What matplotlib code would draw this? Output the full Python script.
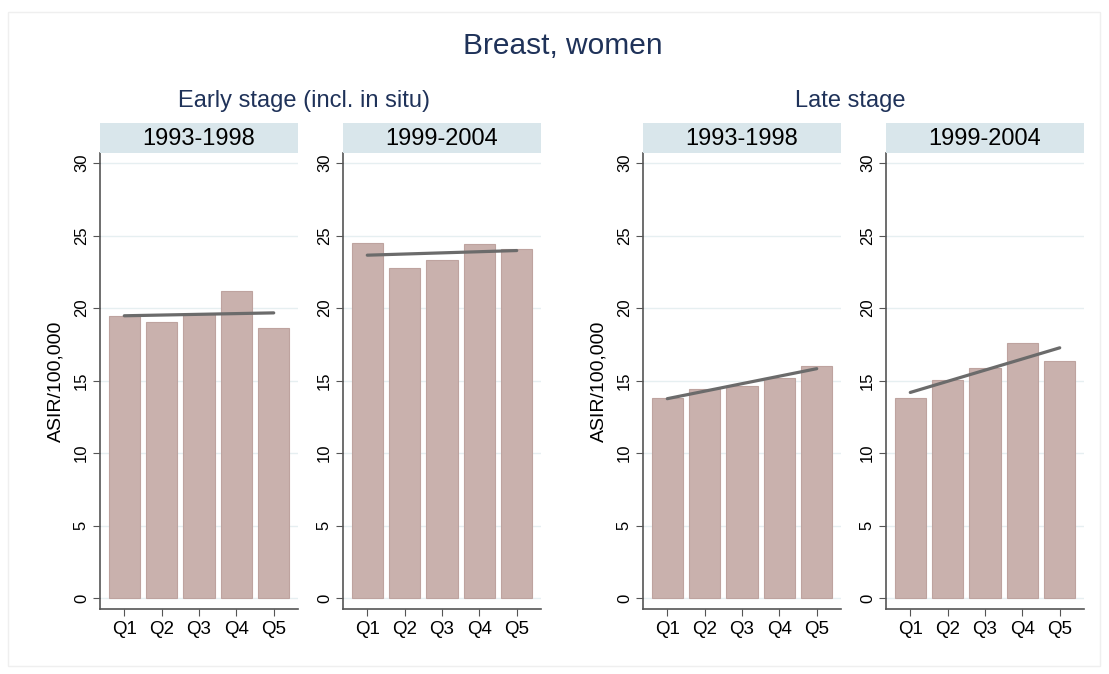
import numpy as np
import matplotlib.pyplot as plt
from matplotlib.patches import Rectangle

plt.rcParams['font.family'] = ['Liberation Sans', 'DejaVu Sans']

quintiles = ["Q1", "Q2", "Q3", "Q4", "Q5"]
periods = ["1993-1998", "1999-2004", "1993-1998", "1999-2004"]
stages = ["Early stage (incl. in situ)", "Late stage"]

early_9398 = [19.45, 19.05, 19.6, 21.2, 18.6]
early_9904 = [24.5, 22.8, 23.3, 24.45, 24.05]
late_9398 = [13.77, 14.43, 14.62, 15.15, 16.0]
late_9904 = [13.8, 15.06, 15.9, 17.6, 16.37]

# fitted line end points (at Q1 and Q5)
trend_q1 = [19.47, 23.65, 13.75, 14.18]
trend_q5 = [19.67, 23.97, 15.82, 17.26]

series = [early_9398, early_9904, late_9398, late_9904]

W, H = 1109, 674
fig = plt.figure(figsize=(W / 100, H / 100), dpi=100)
fig.patch.set_facecolor("white")
fig.patches.append(Rectangle((8 / W, 8 / H), 1092 / W, 654 / H, transform=fig.transFigure,
                             fill=False, edgecolor="#efefef", lw=1))

bar_col = "#c9b1ad"
edge_col = "#bea39f"
line_col = "#6b6b6b"
grid_col = "#e6eff1"
strip_col = "#d9e6eb"
navy = "#1f3259"

lefts = [100, 343, 643, 886]
pw = 198
bottom, top = 609, 153

def fx(px):
    return px / W

def fy(py):
    return 1 - py / H

x = np.arange(1, 6)
for i, (vals, left) in enumerate(zip(series, lefts)):
    ax = fig.add_axes([fx(left), fy(bottom), pw / W, (bottom - top) / H])
    ax.bar(x, vals, width=0.83, color=bar_col, edgecolor=edge_col, lw=0.8, zorder=2)
    ax.plot([1, 5], [trend_q1[i], trend_q5[i]], color=line_col, lw=2.3,
            solid_capstyle="round", zorder=3)
    ax.set_xlim(0.35, 5.65)
    ax.set_ylim(-0.76, 30.7)
    ax.set_yticks(range(0, 31, 5))
    ax.set_xticks(x)
    ax.set_xticklabels(quintiles, fontsize=13.5)
    ax.tick_params(axis="y", labelsize=12, labelrotation=90, length=5, color="#555555", pad=3)
    ax.tick_params(axis="x", length=5, color="#555555", pad=4)
    for lab in ax.get_yticklabels():
        lab.set_va("center")
    ax.grid(axis="y", color=grid_col, lw=1, zorder=0)
    ax.set_axisbelow(True)
    for s in ["top", "right"]:
        ax.spines[s].set_visible(False)
    ax.spines["left"].set_color("#555555")
    ax.spines["bottom"].set_color("#555555")
    ax.spines["left"].set_linewidth(1.2)
    ax.spines["bottom"].set_linewidth(1.2)
    if i in (0, 2):
        ax.set_ylabel("ASIR/100,000", fontsize=14, labelpad=7)

    # strip with period label
    sx = fig.add_axes([fx(left), fy(top), pw / W, 30 / H])
    sx.set_facecolor(strip_col)
    sx.set_xticks([])
    sx.set_yticks([])
    for s in sx.spines.values():
        s.set_visible(False)
    sx.text(0.5, 0.47, periods[i], ha="center", va="center", fontsize=17, transform=sx.transAxes)

fig.text(fx(304), fy(101), stages[0], ha="center", va="center", fontsize=17, color=navy)
fig.text(fx(850), fy(101), stages[1], ha="center", va="center", fontsize=17, color=navy)
fig.text(fx(563), fy(46), "Breast, women", ha="center", va="center", fontsize=21.5, color=navy)

fig.savefig("out.png", dpi=100)
